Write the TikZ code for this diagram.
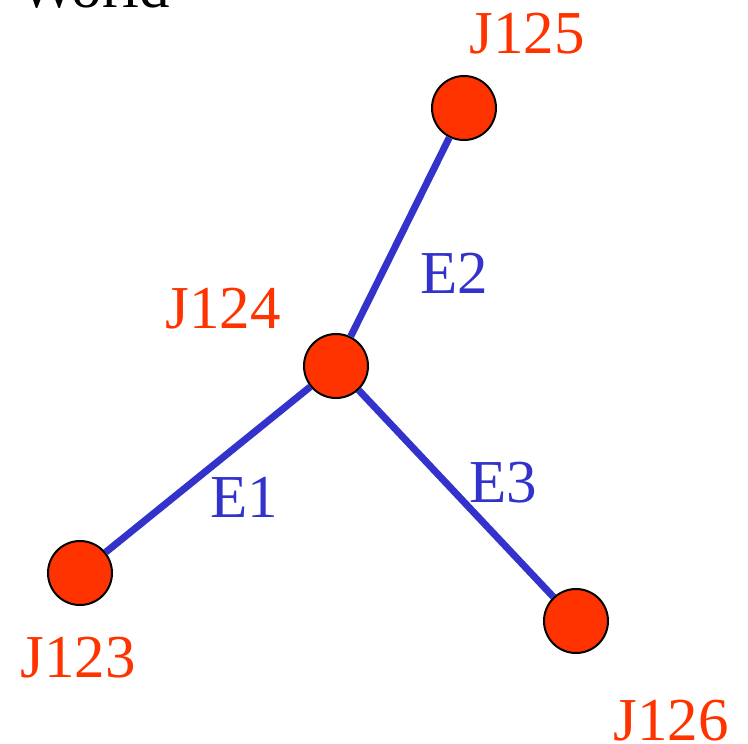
\documentclass[tikz,border=0pt]{standalone}
\usepackage{fontspec}
\setmainfont{Liberation Serif}
\definecolor{jred}{HTML}{FF3300}
\definecolor{eblue}{HTML}{3333CC}
\begin{document}
\begin{tikzpicture}[x=1pt,y=-1pt,
  junction/.style={circle,draw=black,line width=2pt,fill=jred,minimum size=64pt,inner sep=0pt},
  edgeline/.style={draw=eblue,line width=7pt},
  jlabel/.style={text=jred,font=\fontsize{61}{61}\selectfont,anchor=base,inner sep=0pt},
  elabel/.style={text=eblue,font=\fontsize{61}{61}\selectfont,anchor=base,inner sep=0pt}]
\useasboundingbox (0,0) rectangle (748,744);
\node[anchor=base west,inner sep=0pt,font=\fontsize{61}{61}\selectfont] (world) at (19,8) {World};
\node[junction] (j125) at (464,108) {};
\node[junction] (j124) at (336,366) {};
\node[junction] (j123) at (80,573) {};
\node[junction] (j126) at (576,621) {};
\path[edgeline] (j124) -- (j125);
\path[edgeline] (j124) -- (j123);
\path[edgeline] (j124) -- (j126);
\node[jlabel] (l125) at (527,53) {J125};
\node[jlabel] (l124) at (223,328) {J124};
\node[jlabel] (l123) at (78,677) {J123};
\node[jlabel] (l126) at (671,740) {J126};
\node[elabel] (e2) at (454,293) {E2};
\node[elabel] (e1) at (244,517) {E1};
\node[elabel] (e3) at (503,502) {E3};
\end{tikzpicture}
\end{document}
